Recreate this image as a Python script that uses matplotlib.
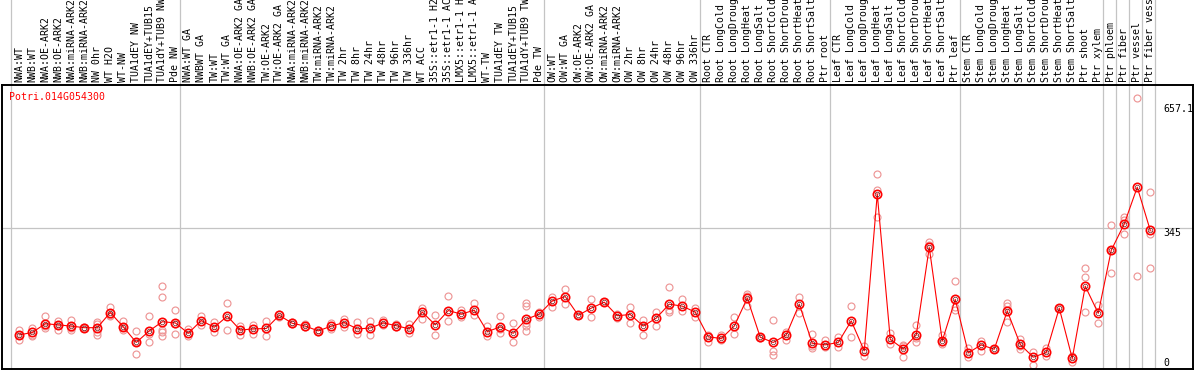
import numpy as np
import matplotlib
matplotlib.use("Agg")
import matplotlib.pyplot as plt

plt.rcParams['font.family'] = ['DejaVu Sans Mono']

gene = "Potri.014G054300"

labels = ["NWA:WT", "NWB:WT", "NWA:OE-ARK2", "NWB:OE-ARK2", "NWA:miRNA-ARK2", "NWB:miRNA-ARK2",
          "NW 0hr", "WT H2O", "WT-NW", "TUA1dEY NW", "TUA1dEY+TUB15", "TUA1dY+TUB9 NW", "Pde NW",
          "NWA:WT GA", "NWBWT GA", "TW:WT", "TW:WT GA", "NWA:OE-ARK2 GA", "NWB:OE-ARK2 GA",
          "TW:OE-ARK2", "TW:OE-ARK2 GA", "NWA:miRNA-ARK2", "NWB:miRNA-ARK2", "TW:miRNA-ARK2",
          "TW:miRNA-ARK2", "TW 2hr", "TW 8hr", "TW 24hr", "TW 48hr", "TW 96hr", "TW 336hr",
          "WT ACC", "35S::etr1-1 H2", "35S::etr1-1 AC", "LMX5::etr1-1 H", "LMX5::etr1-1 A",
          "WT-TW", "TUA1dEY TW", "TUA1dEY+TUB15", "TUA1dY+TUB9 TW", "Pde TW",
          "OW:WT", "OW:WT GA", "OW:OE-ARK2", "OW:OE-ARK2 GA", "OW:miRNA-ARK2", "OW:miRNA-ARK2",
          "OW 2hr", "OW 8hr", "OW 24hr", "OW 48hr", "OW 96hr", "OW 336hr",
          "Root CTR", "Root LongCold", "Root LongDroug", "Root LongHeat", "Root LongSalt",
          "Root ShortCold", "Root ShortDrou", "Root ShortHeat", "Root ShortSalt", "Ptr root",
          "Leaf CTR", "Leaf LongCold", "Leaf LongDroug", "Leaf LongHeat", "Leaf LongSalt",
          "Leaf ShortCold", "Leaf ShortDrou", "Leaf ShortHeat", "Leaf ShortSalt", "Ptr leaf",
          "Stem CTR", "Stem LongCold", "Stem LongDroug", "Stem LongHeat", "Stem LongSalt",
          "Stem ShortCold", "Stem ShortDrou", "Stem ShortHeat", "Stem ShortSalt", "Ptr shoot",
          "Ptr xylem", "Ptr phloem", "Ptr fiber", "Ptr vessel", "Ptr fiber vess"]

means = [78, 84, 106, 103, 100, 96, 96, 134, 98, 59, 88, 111, 108,
         82, 114, 97, 125, 90, 93, 94, 127, 107, 100, 88, 100, 109, 93, 95, 108, 101, 93,
         135, 103, 139, 130, 140, 86, 98, 82, 117, 130,
         163, 174, 127, 145, 160, 126, 129, 100, 120, 155, 150, 135,
         73, 69, 100, 170, 72, 59, 78, 155, 57, 53,
         59, 113, 38, 431, 67, 43, 78, 297, 63, 167,
         33, 53, 42, 138, 54, 22, 34, 145, 19, 200, 132,
         290, 356, 448, 340]

# replicate values per sample
reps = [[90, 65, 78], [96, 75, 78], [125, 94, 100], [114, 91, 103], [115, 90, 94],
        [98, 95, 94], [111, 105, 86, 78], [149, 128, 125], [114, 90, 98], [88, 29, 60],
        [125, 59, 80], [200, 172, 90, 84, 75], [140, 79, 105],
        [92, 76], [125, 103], [111, 86], [158, 90], [100, 78], [103, 80], [113, 75],
        [130, 124], [110, 104], [104, 97], [91, 85], [107, 92], [119, 97], [110, 79],
        [113, 77], [115, 102], [105, 97], [104, 82], [146, 117], [128, 78], [175, 114],
        [140, 124], [159, 128], [101, 76], [125, 82, 92], [109, 59],
        [159, 150, 107, 100, 88], [136, 124],
        [172, 149], [193, 155], [127], [167, 122], [160], [131, 121], [149, 109],
        [115, 77], [136, 100], [197, 135, 140], [168, 139], [146, 122],
        [78, 61], [78, 64], [122, 80], [181, 150, 175], [73, 70], [115, 38, 28],
        [86, 65], [172, 134], [80, 44, 50], [65, 48],
        [73, 48], [150, 72], [50, 26], [480, 441, 373], [82, 55], [53, 23, 50],
        [103, 61, 70], [311, 303, 280], [78, 60, 55], [213, 149, 140],
        [44, 23], [63, 38], [42], [157, 150, 111], [68, 42, 50], [36, 3], [44, 26],
        [145], [26, 11], [246, 222, 135], [153, 109],
        [353, 232, 290], [374, 330, 365], [671, 226], [437, 331, 245]]

group_edges = [0, 13, 41, 53, 63, 73, 84, 85, 86, 87, 88]
ytick_vals = [0, 345, 657.1]
ytick_text = ["0", "345", "657.1"]

W, H = 1194, 370
fig = plt.figure(figsize=(W / 100, H / 100), dpi=100)
ax = fig.add_axes([1.5 / W, 1.0 / H, 1191 / W, 283.7 / H])

x = np.arange(len(means)) + 0.66
rx = np.concatenate([[x[i]] * len(r) for i, r in enumerate(reps)])
ry = np.concatenate(reps)

grid_c = '#c4c4c4'
for b in group_edges:
    ax.axvline(b, ymin=0, ymax=1.31, clip_on=False, color=grid_c, lw=0.9, zorder=0)
ax.axhline(345, color=grid_c, lw=0.9, zorder=0)

ax.plot(rx, ry, 'o', ls='none', ms=5.0, mfc='none', mec='#ee9696', mew=0.85, zorder=2)
ax.plot(x, means, '-', color='#ff0000', lw=0.8, zorder=3)
ax.plot(x, means, 'o', ls='none', ms=6.0, mfc='none', mec='#ff0000', mew=1.2, zorder=4)
ax.plot(x, means, 'o', ls='none', ms=3.3, mfc='none', mec='#661010', mew=0.45, zorder=5)

ax.set_xlim(-0.708, 90.91)
ax.set_ylim(-7.5, 703.3)

ax.set_xticks(x)
ax.set_xticklabels(labels, rotation=90, fontsize=7.1)
ax.tick_params(axis='x', top=True, bottom=False, labeltop=True, labelbottom=False,
               length=0, pad=2.2)

ax.yaxis.tick_right()
ax.set_yticks(ytick_vals)
ax.set_yticklabels(ytick_text, fontsize=7.1)
ax.tick_params(axis='y', length=0, pad=-21.0)
for t, v in zip(ax.get_yticklabels(), ytick_vals):
    t.set_va('baseline' if v == 0 else 'top')

for s in ax.spines.values():
    s.set_color('black')
    s.set_linewidth(1.4)

ax.text((9.3 - 1.5) / 1191, (369 - 97) / 283.7, gene, transform=ax.transAxes,
        color='#ff0000', fontsize=7.1, ha='left', va='center')

fig.savefig("out.png", dpi=100)
